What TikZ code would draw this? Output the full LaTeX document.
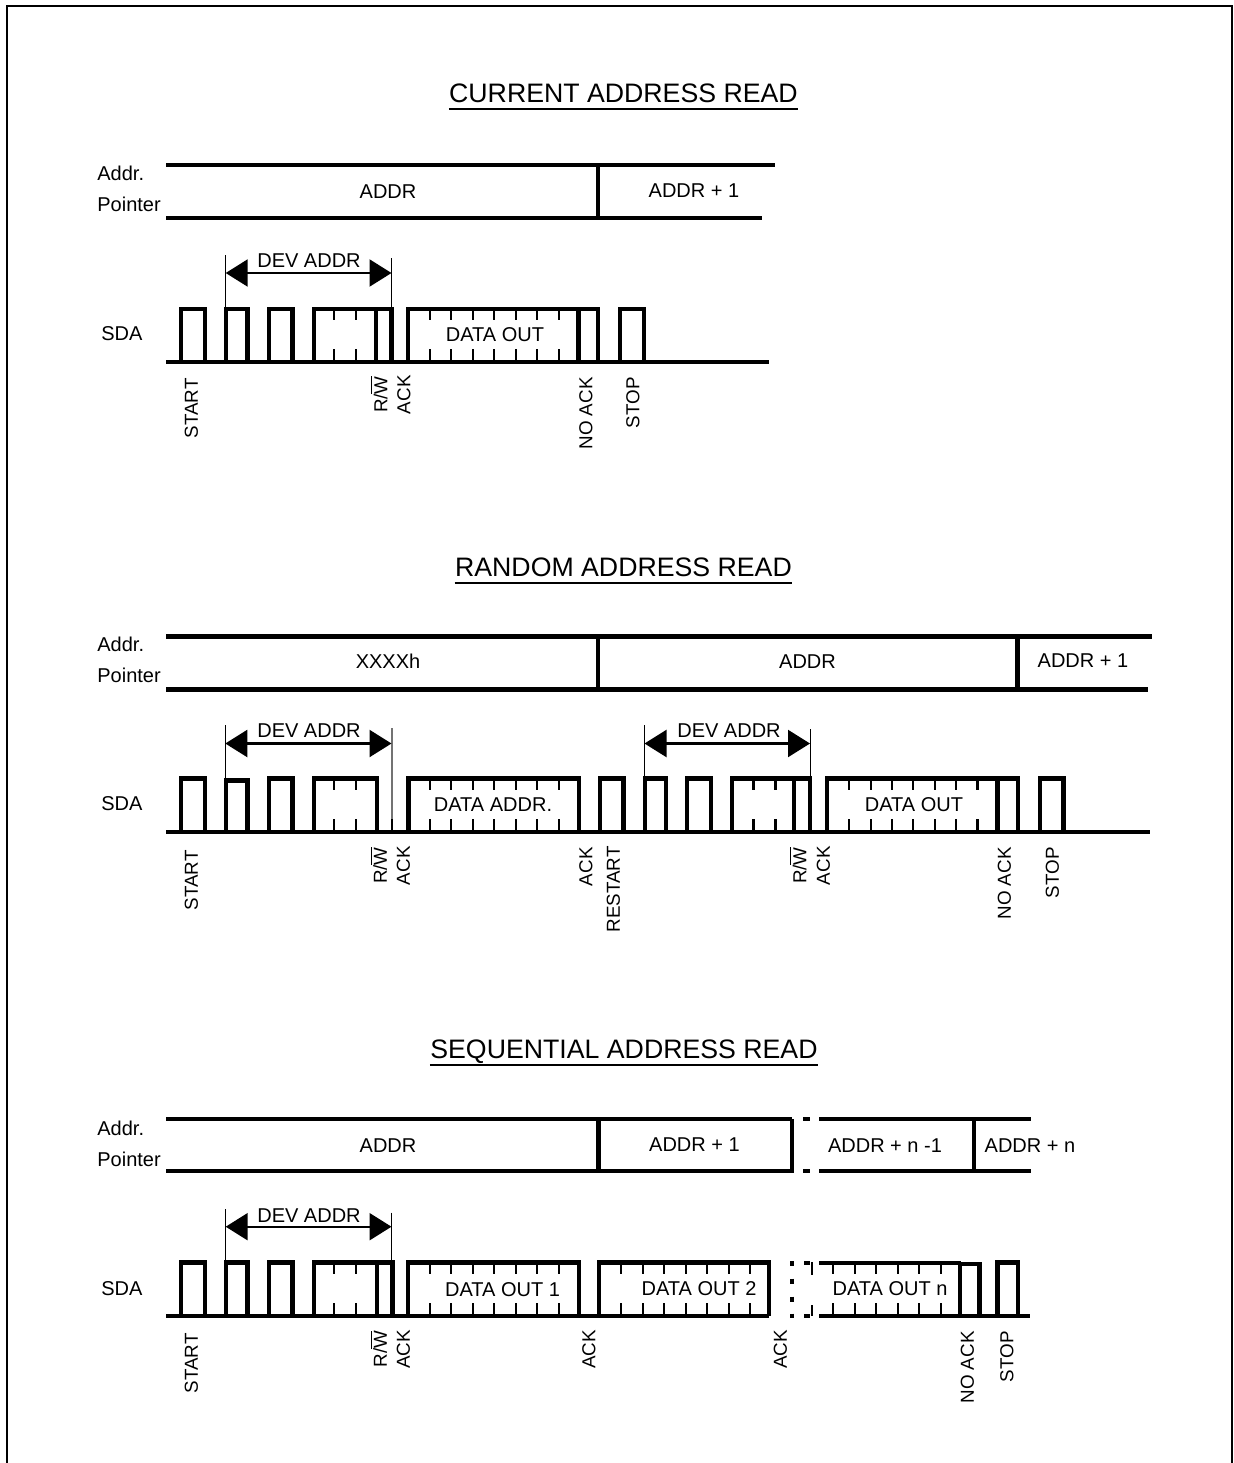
\documentclass[tikz,border=0pt]{standalone}
\usepackage{fontspec}
\setmainfont{Liberation Sans}
\usetikzlibrary{arrows.meta}
\tikzset{
  sig/.style={line width=2.2pt,line join=miter,line cap=butt},
  tk/.style={line width=1.1pt},
  ext/.style={line width=0.5pt},
  guide/.style={line width=0.6pt,draw=black!55},
  dev/.style={line width=1.1pt,{Triangle[length=11pt,width=13.5pt]}-{Triangle[length=11pt,width=13.5pt]}},
  lbl/.style={inner sep=0pt,yshift=-0.4pt,font=\fontsize{10pt}{12pt}\selectfont},
  vlbl/.style={inner sep=0pt,font=\fontsize{9.4pt}{12pt}\selectfont,anchor=east,rotate=90},
  sidelbl/.style={inner sep=0pt,font=\fontsize{10pt}{12pt}\selectfont,anchor=west},
  ttl/.style={inner sep=0pt,font=\fontsize{13.35pt}{16pt}\selectfont},
  rule/.style={line width=0.6pt},
  frm/.style={line width=1.1pt}
}
\newcommand{\rw}{\vphantom{A}\smash{R/$\overline{\mbox{W}}$}}
% \plse{x1}{x2}{ytop}{ybase}
\newcommand{\plse}[4]{\draw[sig] (#1,#4) -- (#1,#3) -- (#2,#3) -- (#2,#4);}
\newcommand{\vln}[3]{\draw[sig] (#1,#2) -- (#1,#3);}
% \tks{x list}{ytop}{ybase}
\newcommand{\tks}[3]{\foreach \tx in {#1} {\draw[tk] (\tx,#2) -- (\tx,#2+11) (\tx,#3-13) -- (\tx,#3);}}
\begin{document}
\begin{tikzpicture}[x=0.5pt,y=-0.5pt]
\useasboundingbox (0,0) rectangle (1233,1463);
\draw[frm] (7,1463) -- (7,6) -- (1232,6) -- (1232,1463);

%%%%%% Section 1
\node[ttl] (t1) at (623.5,93) {CURRENT ADDRESS READ};
\draw[rule] (t1.west |- 0,109) coordinate (t1a) -- (t1.east |- 0,109) coordinate (t1b);
\node[sidelbl] (a1) at (97,173) {Addr.};
\node[sidelbl] (p1) at (97,204.5) {Pointer};
\draw[sig] (166,165) -- (775,165);
\draw[sig] (166,218) -- (762,218);
\vln{598}{165}{218}
\node[lbl] (v11) at (388,191) {ADDR};
\node[lbl] (v12) at (694,190) {ADDR + 1};
\node[sidelbl] (s1) at (101,333.5) {SDA};
\draw[sig] (166,362) -- (769,362);
\plse{181}{205}{309}{362}
\plse{226}{247.3}{309}{362}
\plse{269}{292.3}{309}{362}
\plse{314}{391.5}{309}{362}
\vln{375.7}{309}{362}
\tks{334,356}{309}{362}
\plse{408}{598}{309}{362}
\vln{578.3}{309}{362}
\tks{430,451,473,494,515.7,537,559}{309}{362}
\plse{620}{644}{309}{362}
\coordinate (d1a) at (225.7,273); \coordinate (d1b) at (391.5,273);
\draw[ext] (225.7,255) -- (225.7,309) (391.5,258) -- (391.5,309);
\draw[dev] (d1a) -- (d1b);
\node[lbl] (dv1) at (309,260) {DEV ADDR};
\node[lbl] (do1) at (495,334) {DATA OUT};
\node[vlbl] (l11) at (191.5,378) {START};
\node[vlbl] (l12) at (381,376) {\rw};
\node[vlbl] (l13) at (404,375) {ACK};
\node[vlbl] (l14) at (586,377) {NO ACK};
\node[vlbl] (l15) at (633,377) {STOP};

%%%%%% Section 2
\node[ttl] (t2) at (623.5,567) {RANDOM ADDRESS READ};
\draw[rule] (t2.west |- 0,583) coordinate (t2a) -- (t2.east |- 0,583) coordinate (t2b);
\node[sidelbl] (a2) at (97,644) {Addr.};
\node[sidelbl] (p2) at (97,675) {Pointer};
\draw[sig] (166,636.5) -- (1152,636.5);
\draw[sig] (166,689.5) -- (1148,689.5);
\vln{598}{636.5}{689.5}
\vln{1017.5}{636.5}{689.5}
\node[lbl] (v21) at (388,660.5) {XXXXh};
\node[lbl] (v22) at (807.5,660.5) {ADDR};
\node[lbl] (v23) at (1083,660) {ADDR + 1};
\node[sidelbl] (s2) at (101,804) {SDA};
\draw[sig] (166,832) -- (1150,832);
\plse{181}{205}{778.5}{832}
\plse{226}{247.3}{780.5}{832}
\plse{269}{292.3}{778.5}{832}
\plse{314}{376.7}{778.5}{832}
\tks{334,356}{778.5}{832}
\plse{408.3}{579}{778.5}{832}
\tks{430,451,472.7,494,516,537.3,559}{778.5}{832}
\plse{600}{623.3}{778.5}{832}
\plse{645}{666}{778.5}{832}
\plse{687}{711}{778.5}{832}
\plse{732}{810}{778.5}{832}
\vln{794}{778.5}{832}
\tks{753.4,775.4}{778.5}{832}
\plse{827}{1018}{778.5}{832}
\vln{997.5}{778.5}{832}
\tks{849,871,892.3,913.3,935,956,977.5}{778.5}{832}
\plse{1040}{1063.4}{778.5}{832}
\coordinate (d2a) at (225.3,743.5); \coordinate (d2b) at (391.5,743.5);
\coordinate (d3a) at (644.5,743.5); \coordinate (d3b) at (810,743.5);
\draw[ext] (225.3,725) -- (225.3,778);
\draw[guide] (392,728) -- (392,819);
\draw[tk] (392,819) -- (392,832);
\draw[ext] (644.5,725) -- (644.5,778) (810,729) -- (810,778);
\draw[dev] (d2a) -- (d2b);
\draw[dev] (d3a) -- (d3b);
\node[lbl] (dv2) at (309,730) {DEV ADDR};
\node[lbl] (dv3) at (729,730) {DEV ADDR};
\node[lbl] (da2) at (493,804) {DATA ADDR.};
\node[lbl] (do2) at (914,804) {DATA OUT};
\node[vlbl] (l21) at (191.5,850) {START};
\node[vlbl] (l22) at (380.5,847) {\rw};
\node[vlbl] (l23) at (403.5,846) {ACK};
\node[vlbl] (l24) at (586,847) {ACK};
\node[vlbl] (l25) at (613.5,846) {RESTART};
\node[vlbl] (l26) at (800,847) {\rw};
\node[vlbl] (l27) at (823.5,846) {ACK};
\node[vlbl] (l28) at (1004.5,847) {NO ACK};
\node[vlbl] (l29) at (1052.5,847) {STOP};

%%%%%% Section 3
\node[ttl] (t3) at (624,1052) {SEQUENTIAL ADDRESS READ};
\draw[rule] (t3.west |- 0,1065) coordinate (t3a) -- (t3.east |- 0,1065) coordinate (t3b);
\node[sidelbl] (a3) at (97,1128) {Addr.};
\node[sidelbl] (p3) at (97,1159) {Pointer};
\draw[sig] (166,1119) -- (792,1119);
\draw[sig] (166,1171) -- (793.5,1171);
\vln{598.5}{1119}{1171}
\vln{792}{1119}{1171}
\draw[sig] (803,1119) -- (809.5,1119) (803,1171) -- (810,1171);
\draw[sig] (819,1119) -- (1031,1119) (819,1171) -- (1031,1171);
\vln{974}{1119}{1171}
\node[lbl] (v31) at (388,1144.5) {ADDR};
\node[lbl] (v32) at (694.5,1144) {ADDR + 1};
\node[lbl] (v33) at (885,1144.5) {ADDR + n -1};
\node[lbl] (v34) at (1030,1144.5) {ADDR + n};
\node[sidelbl] (s3) at (101,1289) {SDA};
\draw[sig] (166,1316) -- (769,1316);
\plse{181}{205}{1262.5}{1316}
\plse{226}{247.3}{1262.5}{1316}
\plse{269}{292.3}{1262.5}{1316}
\plse{314}{392.5}{1262.5}{1316}
\vln{376.7}{1262.5}{1316}
\tks{334,356}{1262.5}{1316}
\plse{408}{579}{1262.5}{1316}
\tks{430,451,473,494,516,537,559}{1262.5}{1316}
\plse{599}{769}{1262.5}{1316}
\tks{621,642.7,664,686,707,728.7,750}{1262.5}{1316}
\vln{792}{1261}{1266}
\vln{792}{1278.5}{1283.5}
\vln{792}{1296.5}{1301.5}
\vln{792}{1313.5}{1318}
\draw[sig] (804,1263) -- (809.5,1263) (804,1316) -- (809.5,1316);
\draw[tk] (811.7,1262) -- (811.7,1275) (811.7,1305) -- (811.7,1316);
\draw[sig] (819,1263) -- (961,1263);
\draw[sig] (819,1316) -- (1029.5,1316);
\tks{832.7,855,876,897.7,919,940.7}{1262.5}{1316}
\plse{960}{979.3}{1264}{1316}
\plse{997.3}{1017.7}{1262.5}{1316}
\coordinate (d4a) at (225.7,1226.7); \coordinate (d4b) at (391.5,1226.7);
\draw[ext] (225.7,1209) -- (225.7,1262) (391.5,1212.5) -- (391.5,1262);
\draw[dev] (d4a) -- (d4b);
\node[lbl] (dv4) at (309,1214.5) {DEV ADDR};
\node[lbl] (do31) at (502.5,1288.5) {DATA OUT 1};
\node[lbl] (do32) at (699,1288) {DATA OUT 2};
\node[lbl] (do33) at (890,1288) {DATA OUT n};
\node[vlbl] (l31) at (191.5,1333) {START};
\node[vlbl] (l32) at (380.5,1330.5) {\rw};
\node[vlbl] (l33) at (403.5,1329.5) {ACK};
\node[vlbl] (l34) at (589,1329.5) {ACK};
\node[vlbl] (l35) at (780.5,1329.5) {ACK};
\node[vlbl] (l36) at (967.5,1331) {NO ACK};
\node[vlbl] (l37) at (1007,1331) {STOP};
\end{tikzpicture}
\end{document}
